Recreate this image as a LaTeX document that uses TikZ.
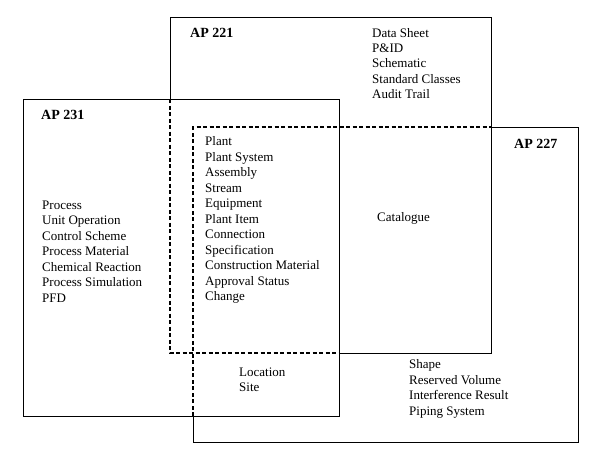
\documentclass[tikz,border=0pt]{standalone}
\usepackage{fontspec}
\setmainfont{Liberation Serif}
\begin{document}
\begin{tikzpicture}[x=1pt,y=-1pt,
  solidline/.style={line width=0.9pt},
  dashline/.style={line width=1.2pt, dash pattern=on 4pt off 2.5pt},
  lbl/.style={anchor=base west, inner sep=0pt, align=left, font=\fontsize{13}{15.5}\selectfont},
  aptitle/.style={anchor=base west, inner sep=0pt, font=\fontsize{14}{16}\selectfont\bfseries}]
\useasboundingbox[fill=white] (0,0) rectangle (600,460);
% AP 221
\draw[solidline] (170,99) -- (170,17) -- (491,17) -- (491,353) -- (339,353);
\draw[dashline] (170,99) -- (170,353) -- (339,353);
% AP 231
\draw[solidline] (23,99) rectangle (339,416);
% AP 227
\draw[solidline] (491,127) -- (578,127) -- (578,442) -- (193,442) -- (193,416);
\draw[dashline] (193,416) -- (193,127) -- (491,127);
% titles
\node[aptitle] (t221) at (190,38) {AP 221};
\node[aptitle] (t231) at (41,119) {AP 231};
\node[aptitle] (t227) at (514,148) {AP 227};
% lists (anchored at the baseline of their last line)
\node[lbl] (l221) at (372,99) {Data Sheet\\P\&ID\\Schematic\\Standard Classes\\Audit Trail};
\node[lbl] (l231) at (42,302) {Process\\Unit Operation\\Control Scheme\\Process Material\\Chemical Reaction\\Process Simulation\\PFD};
\node[lbl] (lcore) at (205,300.5) {Plant\\Plant System\\Assembly\\Stream\\Equipment\\Plant Item\\Connection\\Specification\\Construction Material\\Approval Status\\Change};
\node[lbl] (lcat) at (377,221) {Catalogue};
\node[lbl] (lloc) at (239,391.5) {Location\\Site};
\node[lbl] (l227) at (409,415) {Shape\\Reserved Volume\\Interference Result\\Piping System};
\end{tikzpicture}
\end{document}
